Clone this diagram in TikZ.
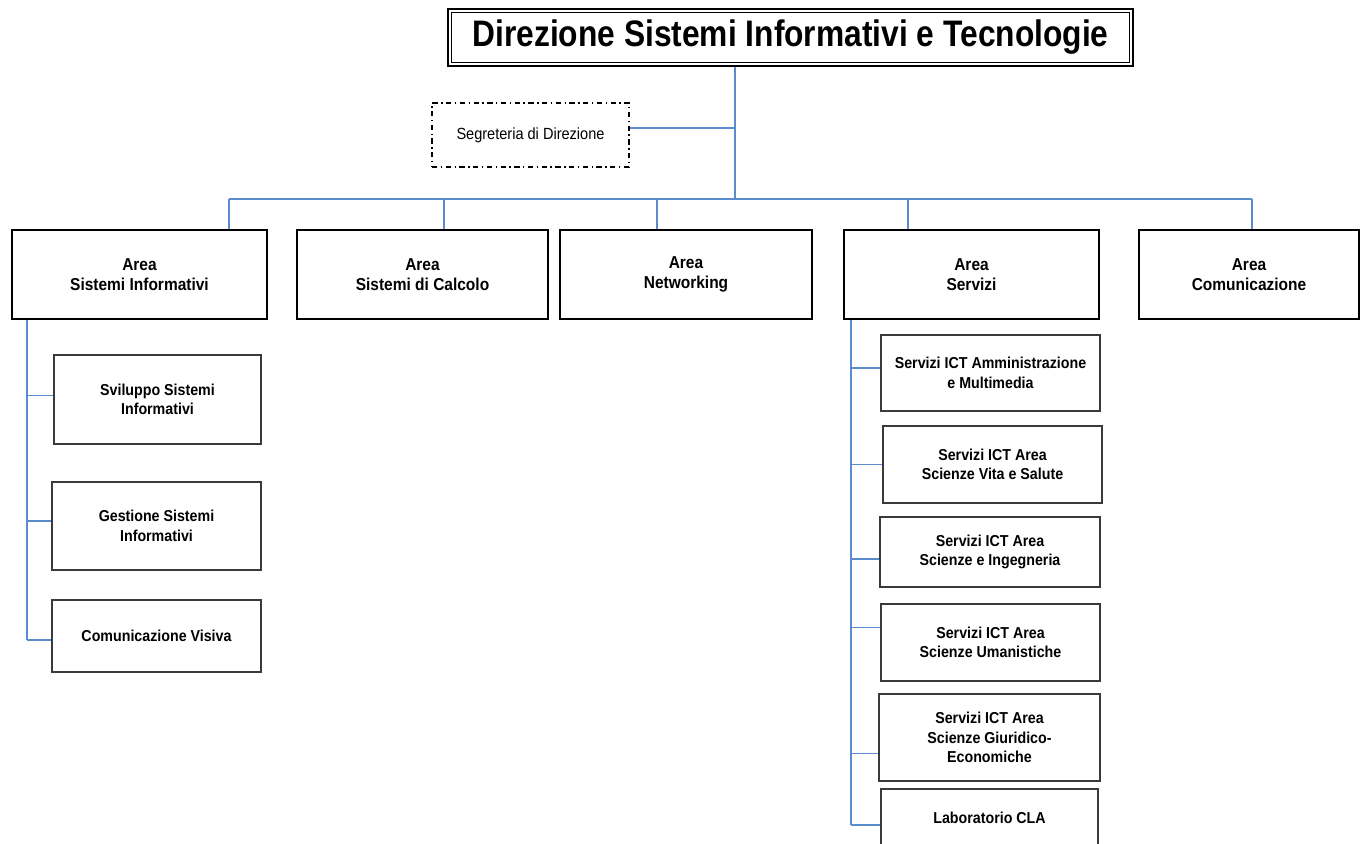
\documentclass[tikz,border=0pt]{standalone}
\usepackage{fontspec}
\setmainfont{Liberation Sans}
\newfontfamily\stretta[FakeStretch=0.9]{Liberation Sans}
\newfontfamily\strettissima[FakeStretch=0.86]{Liberation Sans}
\usetikzlibrary{positioning}
\definecolor{bluorg}{HTML}{5B8BCF}
\definecolor{bordo}{HTML}{3A3A3A}
\tikzstyle{direzione} = [draw=black, line width=1.1pt, fill=white, minimum width=13.7cm, minimum height=1.14cm, inner sep=0pt, font=\strettissima\bfseries\fontsize{21}{25}\selectfont]
\tikzstyle{segreteria} = [draw=black, line width=0.8pt, dash pattern=on 3pt off 2pt on 0.8pt off 2pt, minimum width=3.94cm, minimum height=1.28cm, inner sep=0pt, font=\stretta\fontsize{9.2}{11}\selectfont]
\tikzstyle{area} = [draw=black, line width=1.2pt, minimum height=1.78cm, inner sep=0pt, align=center, font=\stretta\bfseries\fontsize{9.8}{11.4}\selectfont]
\tikzstyle{ufficio} = [draw=bordo, line width=0.7pt, inner sep=0pt, align=center, font=\stretta\bfseries\fontsize{9}{11}\selectfont]
\tikzstyle{linea} = [draw=bluorg, line width=1pt]

\begin{document}
\begin{tikzpicture}[x=0.02cm, y=-0.02cm]
	\path[use as bounding box] (0,0) rectangle (1362,844);
	\clip (0,0) rectangle (1362,844);
	\node [direzione] (dir) at (790.5,37.5) {Direzione Sistemi Informativi e Tecnologie};
	\draw[black, line width=0.6pt] ([shift={(4,-4)}]dir.south west) rectangle ([shift={(-4,4)}]dir.north east);
	\node [segreteria] (seg) at (530.5,135) {Segreteria di Direzione};
	\node [area, minimum width=5.1cm] (asi) at (139.5,274.5) {Area\\Sistemi Informativi};
	\node [area, minimum width=5.02cm] (asc) at (422.5,274.5) {Area\\Sistemi di Calcolo};
	\node [area, minimum width=5.04cm] (anw) at (686,274.5) {Area\\Networking};
	\node [area, minimum width=5.1cm] (ase) at (971.5,274.5) {Area\\Servizi};
	\node [area, minimum width=4.4cm] (aco) at (1249,274.5) {Area\\Comunicazione};
	\node [ufficio, minimum width=4.14cm, minimum height=1.78cm] (sv) at (157.5,399.5) {Sviluppo Sistemi\\Informativi};
	\node [ufficio, minimum width=4.18cm, minimum height=1.76cm] (gs) at (156.5,526) {Gestione Sistemi\\Informativi};
	\node [ufficio, minimum width=4.18cm, minimum height=1.44cm] (cv) at (156.5,636) {Comunicazione Visiva};
	\node [ufficio, minimum width=4.38cm, minimum height=1.52cm] (s1) at (990.5,373) {Servizi ICT Amministrazione\\e Multimedia};
	\node [ufficio, minimum width=4.38cm, minimum height=1.54cm] (s2) at (992.5,464.5) {Servizi ICT Area\\Scienze Vita e Salute};
	\node [ufficio, minimum width=4.4cm, minimum height=1.4cm] (s3) at (990,552) {Servizi ICT Area\\Scienze e Ingegneria};
	\node [ufficio, minimum width=4.38cm, minimum height=1.54cm] (s4) at (990.5,642.5) {Servizi ICT Area\\Scienze Umanistiche};
	\node [ufficio, minimum width=4.42cm, minimum height=1.74cm] (s5) at (989.5,737.5) {Servizi ICT Area\\Scienze Giuridico-\\Economiche};
	\node [ufficio, minimum width=4.34cm, minimum height=1.16cm] (s6) at (989.5,818) {Laboratorio CLA};
	\coordinate (hub) at (735,199);
	\coordinate (d1) at (229,199);
	\coordinate (d2) at (444,199);
	\coordinate (d3) at (657,199);
	\coordinate (d4) at (908,199);
	\coordinate (d5) at (1252,199);
	\coordinate (sl) at (27,0);
	\coordinate (sr) at (851,0);
	\draw[linea] (hub |- dir.south) -- (hub);
	\draw[linea] ([shift={(0,-7)}]seg.east) -- ([shift={(0,-7)}]seg.east -| hub);
	\draw[linea] (d1) -- (d5);
	\foreach \d/\a in {d1/asi, d2/asc, d3/anw, d4/ase, d5/aco}
		\draw[linea] (\d) -- (\d |- \a.north);
	\draw[linea] (sl |- asi.south) -- ([shift={(0,4)}]sl |- cv.west);
	\foreach \u/\o in {sv/-4, gs/-5, cv/4}
		\draw[linea] ([shift={(0,\o)}]\u.west) -- ([shift={(0,\o)}]\u.west -| sl);
	\draw[linea] (sr |- ase.south) -- ([shift={(0,7)}]sr |- s6.west);
	\foreach \u/\o in {s1/-5, s2/0, s3/7, s4/-15, s5/16, s6/7}
		\draw[linea] ([shift={(0,\o)}]\u.west) -- ([shift={(0,\o)}]\u.west -| sr);
\end{tikzpicture}
\end{document}
